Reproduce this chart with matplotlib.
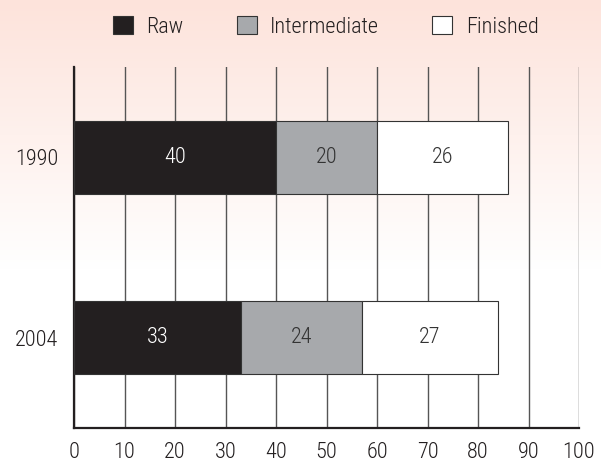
import numpy as np
import matplotlib.pyplot as plt
from matplotlib.colors import LinearSegmentedColormap

plt.rcParams['font.family'] = ['Roboto Condensed', 'Archivo Narrow', 'DejaVu Sans']
plt.rcParams['font.weight'] = 'light'

years = ['1990', '2004']
stages = ['Raw', 'Intermediate', 'Finished']
shares = {
    'Raw': [40, 33],
    'Intermediate': [20, 24],
    'Finished': [26, 27],
}
colors = {'Raw': '#231f20', 'Intermediate': '#a7a9ac', 'Finished': '#ffffff'}
label_colors = {'Raw': '#ffffff', 'Intermediate': '#333333', 'Finished': '#333333'}
xticks = [0, 10, 20, 30, 40, 50, 60, 70, 80, 90, 100]

fig = plt.figure(figsize=(6.01, 4.63), dpi=100)

# peach wash fading to white behind everything
bg = fig.add_axes([0, 0, 1, 1], zorder=-10)
grad = np.clip(np.arange(463) / 270.0, 0, 1).reshape(-1, 1)
cmap = LinearSegmentedColormap.from_list('wash', ['#fde3db', '#ffffff'])
bg.imshow(grad, aspect='auto', cmap=cmap, extent=[0, 1, 0, 1], vmin=0, vmax=1)
bg.axis('off')

ax = fig.add_axes([74 / 601, 1 - 428 / 463, 505 / 601, 361 / 463])
ax.patch.set_alpha(0)

y = np.arange(len(years))
left = np.zeros(len(years))
for s in stages:
    vals = np.array(shares[s])
    bars = ax.barh(y, vals, left=left, height=0.405, color=colors[s],
                   edgecolor='#333333', linewidth=0.8, label=s, zorder=3)
    ax.bar_label(bars, labels=[str(v) for v in vals], label_type='center',
                 color=label_colors[s], fontsize=16)
    left += vals

ax.set_xlim(0, 100)
ax.set_ylim(1.5, -0.5)
ax.set_xticks(xticks)
ax.set_yticks(y)
ax.set_yticklabels(years)
ax.tick_params(length=0, labelsize=16, colors='#231f20')
ax.tick_params(axis='x', pad=10)
ax.tick_params(axis='y', pad=11)
ax.xaxis.grid(True, color='#555555', linewidth=1.0, zorder=1)
ax.set_axisbelow(True)
for side in ['top', 'right']:
    ax.spines[side].set_visible(False)
for side in ['left', 'bottom']:
    ax.spines[side].set_linewidth(1.6)
    ax.spines[side].set_color('#231f20')

handles, labels = ax.get_legend_handles_labels()
fig.legend(handles, labels, ncol=3, loc='center', bbox_to_anchor=(0.542, 0.942),
           frameon=False, fontsize=16, handlelength=0.9, handleheight=0.9,
           handletextpad=0.6, columnspacing=2.4, labelcolor='#231f20')

fig.savefig('out.png', dpi=100)
